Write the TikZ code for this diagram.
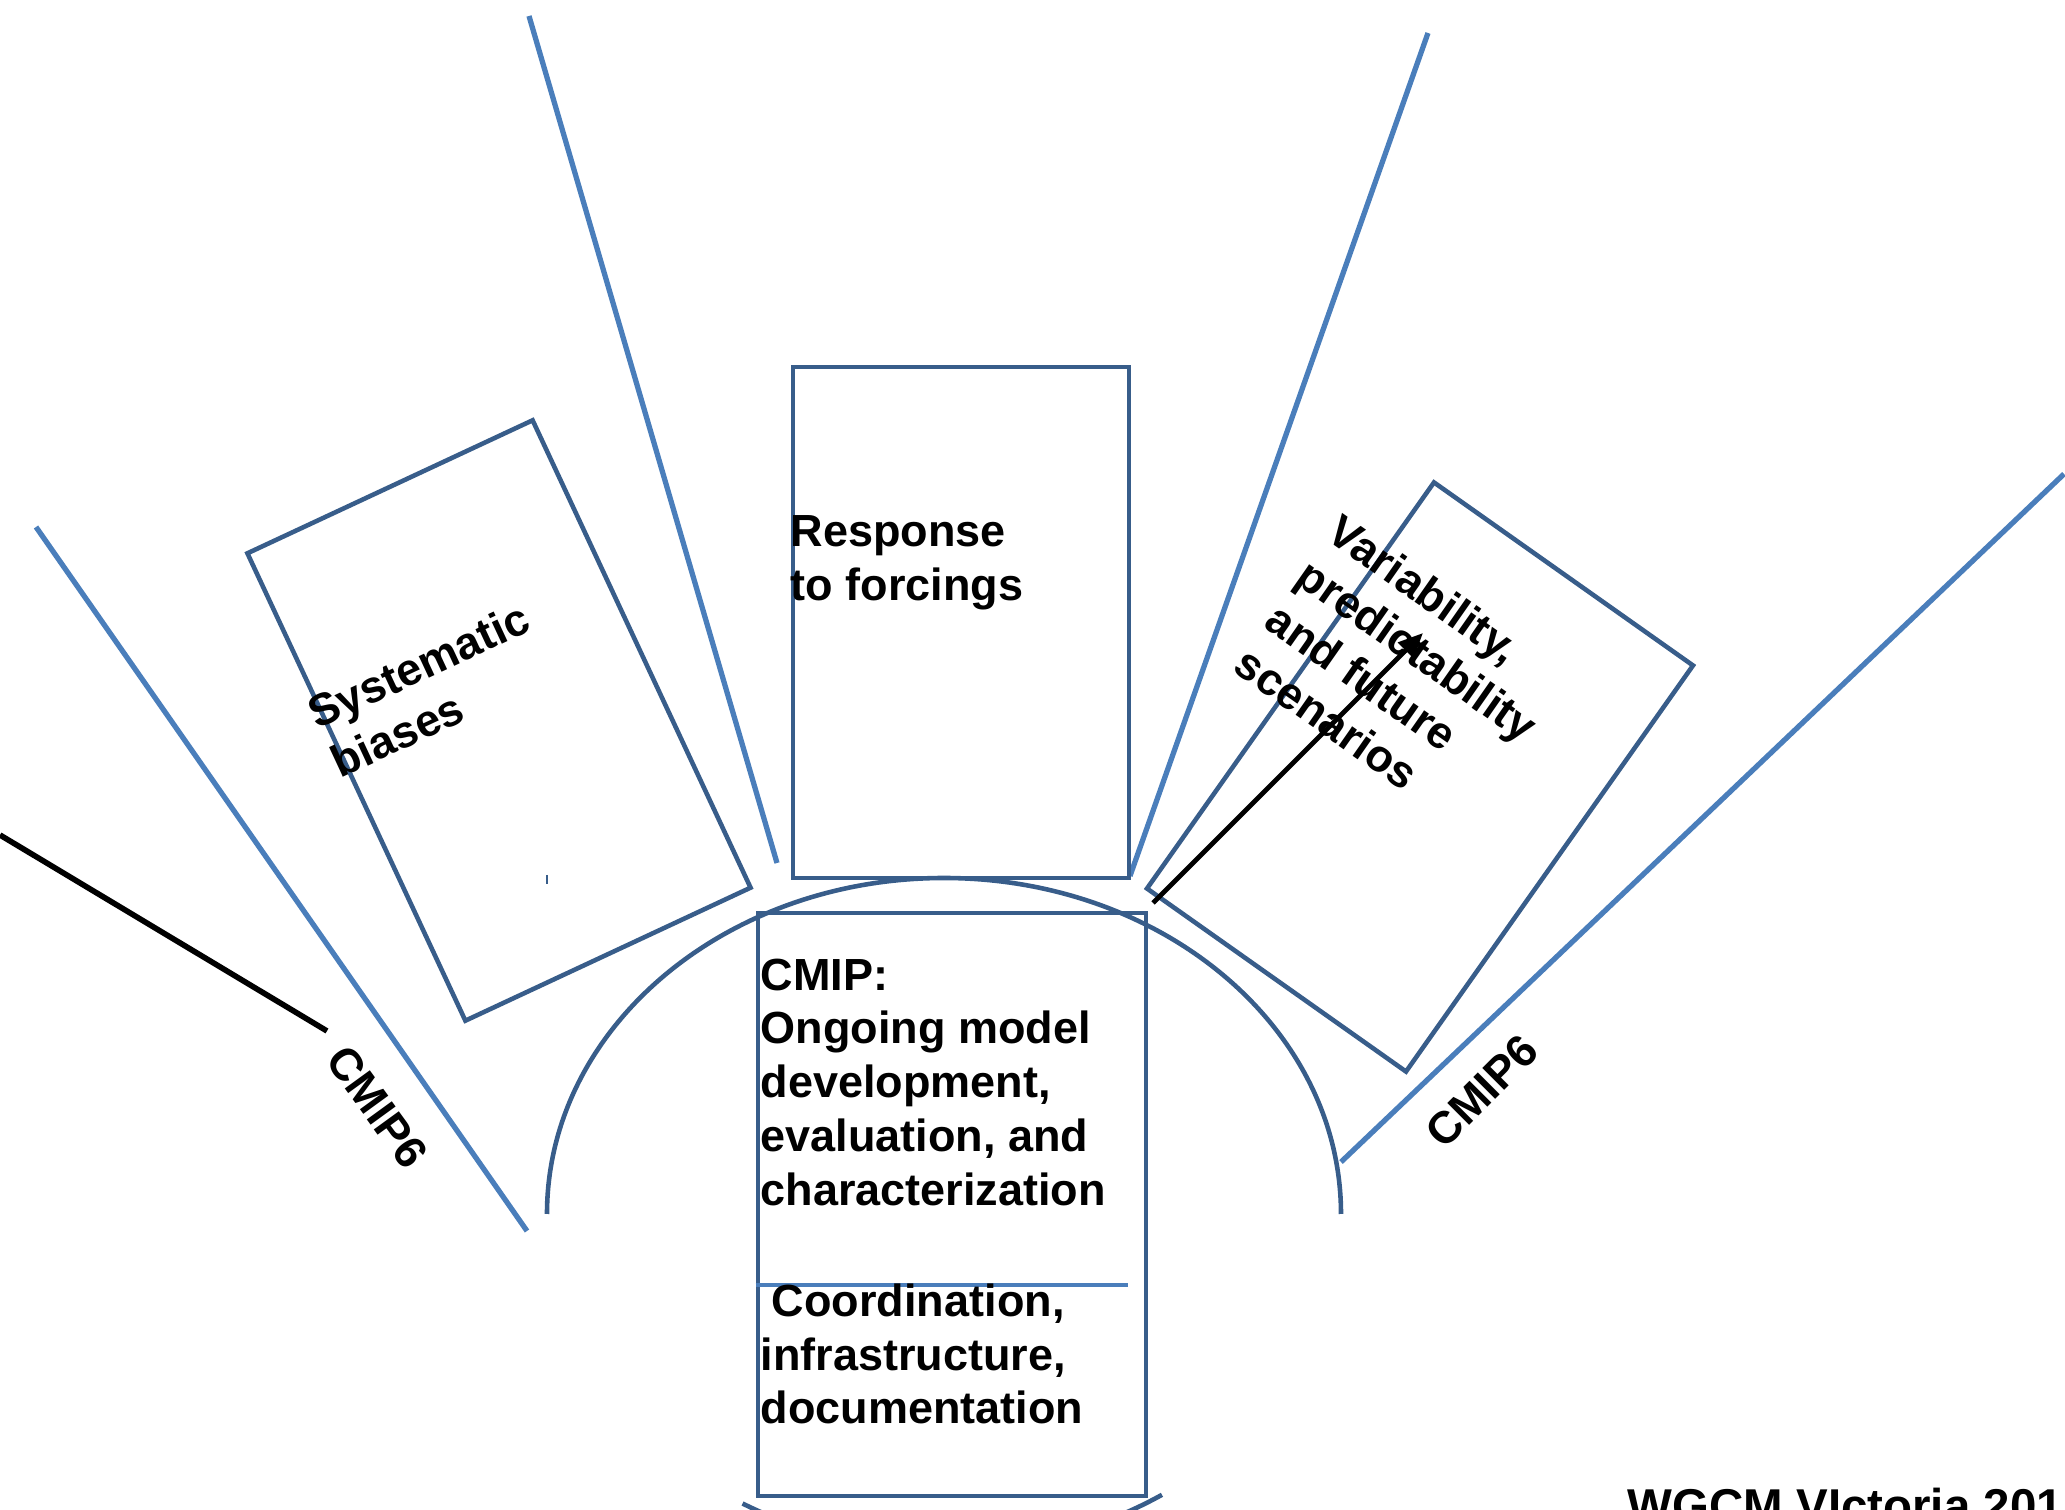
\documentclass[tikz,border=0pt]{standalone}
\usepackage{fontspec}
\setmainfont{Liberation Sans}
\usetikzlibrary{arrows.meta}

\definecolor{boxblue}{HTML}{385D8A}
\definecolor{rayblue}{HTML}{4A7EBB}

\tikzset{
  panel/.style={draw=boxblue, line width=1.3pt, inner sep=0pt},
  ray/.style={draw=rayblue, line width=1.5pt},
  txt/.style={font=\bfseries\fontsize{12.8}{15.3}\selectfont, inner sep=0pt, align=left, anchor=north west},
}

\begin{document}
\begin{tikzpicture}[x=0.01cm, y=-0.01cm]
    \useasboundingbox (0,0) rectangle (2065,1510); % 画布大小
    \clip (0,0) rectangle (2065,1510);

    \draw[ray] (36,527) -- (527,1231);    % 左侧射线
    \draw[ray] (529,16) -- (777,863);     % 左上射线
    \draw[ray] (1428,33) -- (1130,876);   % 右上射线
    \draw[ray] (2064,474) -- (1341,1162); % 右侧射线
    \draw[black, line width=1.6pt] (0,835) -- (327,1031); % 黑线

    \node[panel, minimum width=3.145cm, minimum height=5.154cm, rotate=25] (biasbox) at (499,720.5) {};  % 左框
    \node[panel, minimum width=3.36cm, minimum height=5.11cm] (forcebox) at (961,622.5) {};              % 中框
    \node[panel, minimum width=3.17cm, minimum height=4.97cm, rotate=-35.25] (varbox) at (1420,777) {};  % 右框
    \node[panel, minimum width=3.88cm, minimum height=5.83cm] (cmipbox) at (952,1204.5) {};              % 下框

    \draw[boxblue, line width=1.3pt] (547,1214) arc[start angle=180, end angle=360, x radius=397, y radius=336]; % 弧
    \draw[boxblue, line width=1.3pt] (944,1214) ++(120.5:397 and 336) arc[start angle=120.5, end angle=105, x radius=397, y radius=336];
    \draw[boxblue, line width=1.3pt] (944,1214) ++(56.7:397 and 336) arc[start angle=56.7, end angle=75, x radius=397, y radius=336];
    \draw[boxblue, line width=0.5pt] (547,875) -- (547,884); % 小刻度
    \draw[rayblue, line width=1.3pt] (cmipbox.west |- 0,1285) -- (1128,1285); % 分隔线

    \node[txt, rotate=25] (biastext) at (303,700) {Systematic\\biases};
    \node[txt] (forcetext) at (790,515) {Response\\to forcings};
    \node[txt, rotate=-35] (vartext) at (1343,511) {Variability,\\predictability\\and future\\scenarios};
    \node[txt] (cmiptext) at (760,958) {CMIP:\\Ongoing model\\development,\\evaluation, and\\characterization};
    \node[txt] (coordtext) at (760,1283) {\hspace*{0.25em}Coordination,\\infrastructure,\\documentation};
    \node[txt, anchor=center, rotate=-54] (leftcmip) at (377,1107) {CMIP6};
    \node[txt, anchor=center, rotate=45] (rightcmip) at (1482,1091) {CMIP6};
    \node[txt, font=\bfseries\fontsize{13.5}{16}\selectfont] (venue) at (1627,1487) {WGCM VIctoria 201};

    \coordinate (arrowtail) at (1153,903);
    \coordinate (arrowtip) at (1423,633);
    \draw[black, line width=1.4pt, -{Triangle[length=7pt,width=6pt]}] (arrowtail) -- (arrowtip); % 箭头
\end{tikzpicture}
\end{document}
